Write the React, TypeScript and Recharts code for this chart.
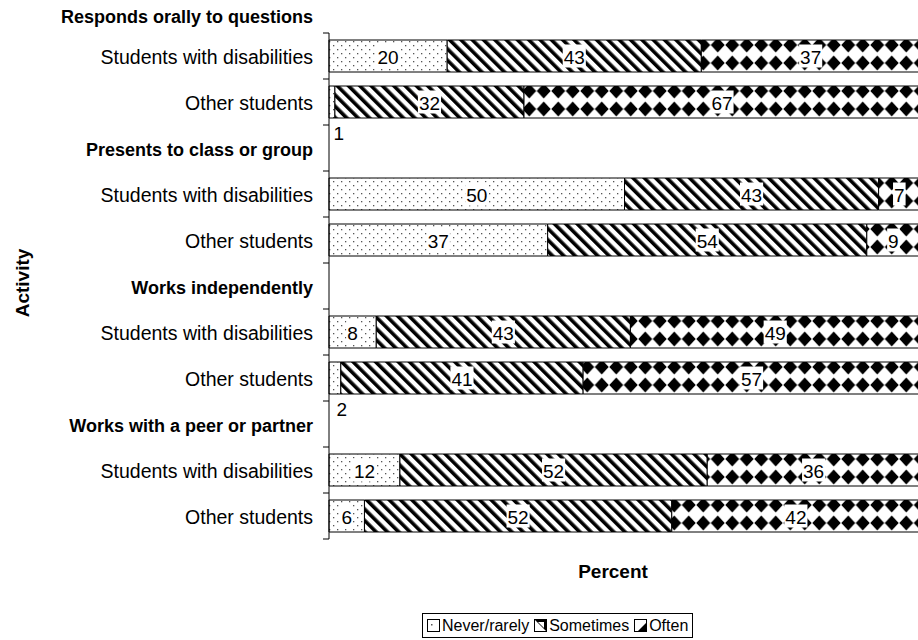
import React from "react";
import { BarChart, Bar, XAxis, YAxis, LabelList } from "recharts";

const groupNames = [
  "Responds orally to questions",
  "Presents to class or group",
  "Works independently",
  "Works with a peer or partner",
];
const subgroupNames = ["Students with disabilities", "Other students"];
const neverRarely = [20, 1, 50, 37, 8, 2, 12, 6];
const sometimes = [43, 32, 43, 54, 43, 41, 52, 52];
const often = [37, 67, 7, 9, 49, 57, 36, 42];
const seriesNames = ["Never/rarely", "Sometimes", "Often"];
const xDomain = [0, 100];

type Row = { id: string; label: string; heading: boolean; never?: number; sometimes?: number; often?: number };

const rows: Row[] = [];
groupNames.forEach((g, gi) => {
  if (gi > 0) rows.push({ id: "h" + gi, label: g, heading: true });
  subgroupNames.forEach((s, si) => {
    const k = gi * 2 + si;
    rows.push({ id: "r" + k, label: s, heading: false, never: neverRarely[k], sometimes: sometimes[k], often: often[k] });
  });
});

const FONT = "'Liberation Sans', Arial, sans-serif";
const AXIS_X = 329;
const TOP = 33;
const BOTTOM = 101;
const H = 640;
const BAND = (H - TOP - BOTTOM) / rows.length;

const Tick = (props: any) => {
  const { y, payload } = props;
  const row = rows.find((r) => r.id === payload.value);
  if (!row) return null;
  const idx = rows.indexOf(row);
  return (
    <g>
      <line x1={AXIS_X - 6} x2={AXIS_X} y1={y - BAND / 2} y2={y - BAND / 2} stroke="#000" />
      {idx === rows.length - 1 && (
        <line x1={AXIS_X - 6} x2={AXIS_X} y1={y + BAND / 2} y2={y + BAND / 2} stroke="#000" />
      )}
      {idx === 0 && (
        <text x={AXIS_X - 16} y={y - BAND + 7} textAnchor="end" dominantBaseline="central" fontFamily={FONT} fontSize={18} fontWeight="bold" fill="#000">
          {groupNames[0]}
        </text>
      )}
      <text
        x={AXIS_X - 16}
        y={row.heading ? y + 2 : y + 1}
        textAnchor="end"
        dominantBaseline="central"
        fontFamily={FONT}
        fontSize={row.heading ? 18 : 19.5}
        fontWeight={row.heading ? "bold" : "normal"}
        fill="#000"
      >
        {row.label}
      </text>
    </g>
  );
};

const renderLabel = (props: any) => {
  const { x, y, width, height, value } = props;
  if (value === undefined || value === null) return null;
  const fs = 19;
  const s = String(value);
  const tw = s.length * 0.556 * fs;
  if (value < 3) {
    return (
      <text x={x + width / 2 + 1.5} y={y + height + 15} dominantBaseline="central" fontFamily={FONT} fontSize={fs} fill="#000">
        {s}
      </text>
    );
  }
  const cx = x + width / 2;
  const cy = y + height / 2;
  return (
    <g>
      <rect x={cx - tw / 2 - 1} y={cy - 11.5} width={tw + 2} height={23} fill="#fff" />
      <text x={cx} y={cy + 1} textAnchor="middle" dominantBaseline="central" fontFamily={FONT} fontSize={fs} fill="#000">
        {s}
      </text>
    </g>
  );
};

const Patterns = () => (
  <svg width={0} height={0} style={{ position: "absolute" }}>
    <defs>
      <pattern id="pDots" width={8} height={8} patternUnits="userSpaceOnUse">
        <rect width={8} height={8} fill="#fff" />
        <rect x={1} y={1} width={1.3} height={1.3} fill="#555" />
        <rect x={5} y={5} width={1.3} height={1.3} fill="#555" />
      </pattern>
      <pattern id="pStripes" width={8} height={8} patternUnits="userSpaceOnUse" patternTransform="rotate(-45)">
        <rect width={8} height={8} fill="#fff" />
        <rect width={3.6} height={8} fill="#000" />
      </pattern>
      <pattern id="pDiamonds" width={14.5} height={46} patternUnits="userSpaceOnUse">
        <rect width={14.5} height={46} fill="#fff" />
        <polygon points="7.25,9.5 14.2,17 7.25,24.5 0.3,17" fill="#000" />
        <polygon points="7.25,37.5 14.2,45 7.25,52.5 0.3,45" fill="#000" />
        <polygon points="7.25,-8.5 14.2,-1 7.25,6.5 0.3,-1" fill="#000" />
      </pattern>
    </defs>
  </svg>
);

const fills = ["url(#pDots)", "url(#pStripes)", "url(#pDiamonds)"];

const LegendIcon = ({ i }: { i: number }) => (
  <svg width={13} height={13} style={{ marginRight: 2 }}>
    {i === 0 && (
      <g>
        <rect x={0.5} y={0.5} width={12} height={12} fill="#fff" stroke="#000" />
        <rect x={4} y={5} width={1.5} height={1.5} fill="#555" />
      </g>
    )}
    {i === 1 && (
      <g>
        <rect x={0.5} y={0.5} width={12} height={12} fill="#fff" stroke="#000" />
        <polygon points="1,1 12,1 12,12" fill="#000" />
        <polygon points="4,3 10,3 10,9" fill="#fff" />
      </g>
    )}
    {i === 2 && (
      <g>
        <rect x={0.5} y={0.5} width={12} height={12} fill="#fff" stroke="#000" />
        <polygon points="12,4 12,12 4,12" fill="#000" />
      </g>
    )}
  </svg>
);

export default function App() {
  return (
    <div style={{ position: "absolute", left: 0, top: 0, width: 918, height: 640, overflow: "hidden", background: "#fff" }}>
      <Patterns />
      <BarChart
        layout="vertical"
        width={930}
        height={H}
        data={rows}
        margin={{ top: TOP, right: 10, bottom: BOTTOM, left: 0 }}
        barSize={32}
      >
        <XAxis type="number" domain={xDomain} hide />
        <YAxis
          type="category"
          dataKey="id"
          width={AXIS_X}
          interval={0}
          tickLine={false}
          axisLine={{ stroke: "#000" }}
          tick={<Tick />}
        />
        {["never", "sometimes", "often"].map((k, i) => (
          <Bar key={k} dataKey={k} name={seriesNames[i]} stackId="a" fill={fills[i]} stroke="#000" strokeWidth={1} isAnimationActive={false}>
            <LabelList dataKey={k} content={renderLabel} />
          </Bar>
        ))}
      </BarChart>
      <div
        style={{
          position: "absolute",
          left: 23,
          top: 283,
          transform: "translate(-50%, -50%) rotate(-90deg)",
          fontFamily: FONT,
          fontWeight: "bold",
          fontSize: 19,
          whiteSpace: "nowrap",
        }}
      >
        Activity
      </div>
      <div
        style={{
          position: "absolute",
          left: 613,
          top: 572,
          transform: "translate(-50%, -50%)",
          fontFamily: FONT,
          fontWeight: "bold",
          fontSize: 19,
          whiteSpace: "nowrap",
        }}
      >
        Percent
      </div>
      <div
        style={{
          position: "absolute",
          left: 422,
          top: 613,
          height: 23,
          border: "1px solid #000",
          display: "flex",
          alignItems: "center",
          padding: "0px 4px",
          fontFamily: FONT,
          fontSize: 16,
          whiteSpace: "nowrap",
        }}
      >
        {seriesNames.map((n, i) => (
          <span key={n} style={{ display: "inline-flex", alignItems: "center", marginRight: i < 2 ? 5 : 0 }}>
            <LegendIcon i={i} />
            {n}
          </span>
        ))}
      </div>
    </div>
  );
}
